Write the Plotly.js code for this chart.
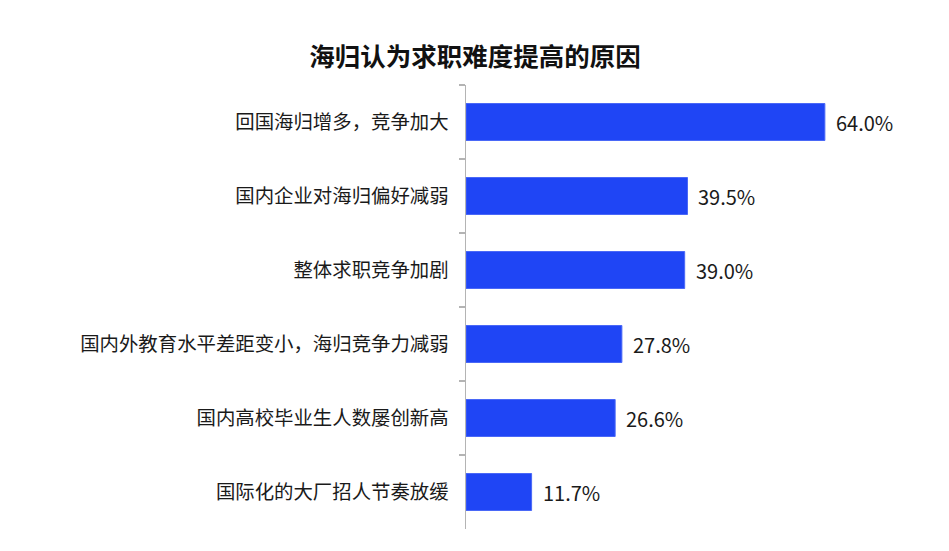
<!DOCTYPE html>
<html>
<head>
<meta charset="utf-8">
<script src="https://cdn.plot.ly/plotly-3.0.1.min.js"></script>
<style>
  html, body { margin: 0; padding: 0; background: #fff; }
  #chart { width: 949px; height: 551px; }
</style>
</head>
<body>
<div id="chart"></div>
<script>
// reasons overseas returnees think job hunting got harder
var reasons = [
    '回国海归增多，竞争加大',
    '国内企业对海归偏好减弱',
    '整体求职竞争加剧',
    '国内外教育水平差距变小，海归竞争力减弱',
    '国内高校毕业生人数屡创新高',
    '国际化的大厂招人节奏放缓'
];
var shares = [64.0, 39.5, 39.0, 27.8, 26.6, 11.7];
var shareLabels = ['64.0%', '39.5%', '39.0%', '27.8%', '26.6%', '11.7%'];

var font = '"Noto Sans CJK SC", "Noto Sans", sans-serif';

var bars = {
    type: 'bar',
    orientation: 'h',
    x: shares,
    y: reasons,
    width: 0.5,
    marker: { color: '#1f45f5', line: { color: '#4a68f7', width: 1 } },
    hoverinfo: 'none'
};

// value labels just right of each bar
var notes = shares.map(function (v, i) {
    return {
        x: v, y: reasons[i], xref: 'x', yref: 'y',
        text: shareLabels[i], showarrow: false,
        xanchor: 'left', xshift: 9,
        font: { family: font, size: 20, color: '#1a1a1a' }
    };
});

var layout = {
    width: 949,
    height: 551,
    showlegend: false,
    paper_bgcolor: '#fff',
    plot_bgcolor: '#fff',
    title: {
        text: '<b>海归认为求职难度提高的原因</b>',
        font: { family: font, size: 25.5, color: '#111' },
        x: 0.5005, xref: 'container', xanchor: 'center',
        y: 0.897, yref: 'container', yanchor: 'middle'
    },
    xaxis: {
        range: [0, 77.4],
        visible: false,
        fixedrange: true
    },
    yaxis: {
        autorange: 'reversed',
        showline: true,
        linecolor: '#b4b4b4',
        linewidth: 1.5,
        ticks: 'outside',
        tickson: 'boundaries',
        ticklen: 6,
        tickcolor: '#b4b4b4',
        tickwidth: 1.5,
        ticklabelstandoff: 12,
        showgrid: false,
        zeroline: false,
        tickfont: { family: font, size: 19.4, color: '#1a1a1a' }
    },
    annotations: notes,
    margin: { l: 466, r: 49, t: 85, b: 22 }
};

Plotly.newPlot('chart', [bars], layout, { staticPlot: true });
</script>
</body>
</html>
